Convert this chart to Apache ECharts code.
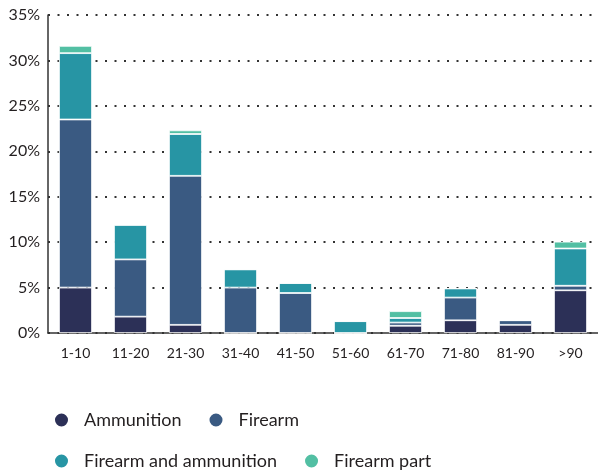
<!DOCTYPE html>
<html>
<head>
<meta charset="utf-8">
<script src="https://cdn.jsdelivr.net/npm/echarts@6/dist/echarts.min.js"></script>
<style>
  html, body { margin: 0; padding: 0; background: #fff; }
  #chart { width: 598px; height: 473px; }
</style>
</head>
<body>
<div id="chart"></div>
<script>
const categories = ['1-10', '11-20', '21-30', '31-40', '41-50', '51-60', '61-70', '71-80', '81-90', '>90']
const ammunition = [5.0, 1.8, 0.9, 0, 0, 0, 0.8, 1.4, 0.9, 4.7]
const firearm = [18.5, 6.3, 16.4, 5.0, 4.4, 0, 0.35, 2.5, 0.5, 0.5]
const firearmAndAmmunition = [7.3, 3.8, 4.6, 2.0, 1.1, 1.3, 0.5, 1.0, 0, 4.1]
const firearmPart = [0.8, 0, 0.4, 0, 0, 0, 0.75, 0, 0, 0.75]
const yTicks = [0, 5, 10, 15, 20, 25, 30, 35]

const fontFamily = 'Lato'
const colors = ['#2c3057', '#3a5a82', '#2795a4', '#52bfa3']

const myChart = echarts.init(document.getElementById('chart'))

function barSeries (name, data) {
  return {
    name: name,
    type: 'bar',
    stack: 'total',
    barWidth: '60%',
    data: data,
    itemStyle: {
      borderColor: '#fff',
      borderWidth: 0.8
    }
  }
}

const legendBase = {
  icon: 'circle',
  padding: 0,
  itemWidth: 15,
  itemHeight: 15,
  itemGap: 26,
  textStyle: {
    fontFamily: fontFamily,
    fontSize: 18,
    color: '#231f20',
    padding: [0, 0, 0, 10]
  }
}

const option = {
  animation: false,
  color: colors,
  textStyle: { fontFamily: fontFamily },
  legend: [
    Object.assign({}, legendBase, { left: 53, top: 411, data: ['Ammunition', 'Firearm'] }),
    Object.assign({}, legendBase, { left: 53, top: 452, data: ['Firearm and ammunition', 'Firearm part'] })
  ],
  grid: {
    left: 48,
    right: 0,
    top: 15,
    bottom: 140
  },
  xAxis: {
    type: 'category',
    data: categories,
    axisTick: { show: false },
    axisLine: { lineStyle: { color: '#333', width: 1.5 } },
    axisLabel: {
      color: '#231f20',
      fontSize: 14,
      margin: 13
    }
  },
  yAxis: {
    type: 'value',
    min: yTicks[0],
    max: yTicks[yTicks.length - 1],
    interval: 5,
    axisLine: { show: true, lineStyle: { color: '#333', width: 1.5 } },
    axisTick: { show: false },
    axisLabel: {
      color: '#231f20',
      fontSize: 16,
      margin: 8,
      formatter: '{value}%'
    },
    splitLine: {
      show: true,
      lineStyle: { color: '#333', width: 2, type: [2, 7.5] }
    }
  },
  series: [
    barSeries('Ammunition', ammunition),
    barSeries('Firearm', firearm),
    barSeries('Firearm and ammunition', firearmAndAmmunition),
    barSeries('Firearm part', firearmPart)
  ]
}

myChart.setOption(option)
</script>
</body>
</html>
